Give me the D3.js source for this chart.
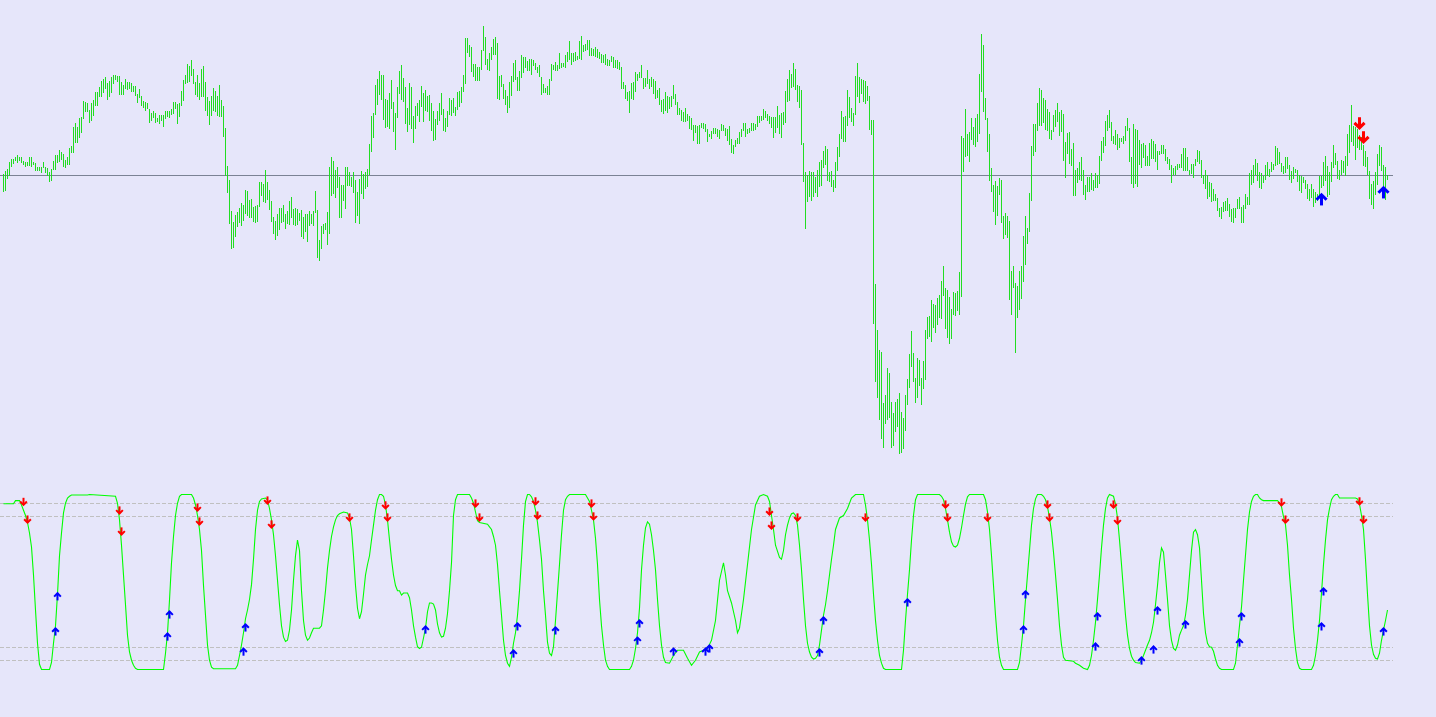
<!DOCTYPE html>
<html><head><meta charset="utf-8">
<script src="https://cdn.jsdelivr.net/npm/d3@7"></script>
<style>html,body{margin:0;padding:0;background:#e6e6fa;overflow:hidden}svg{display:block}</style>
</head><body>
<svg id="chart" width="1436" height="717"></svg>
<script>
// ---- price bars (high / low, in points relative to the horizontal level) ----
const barHigh = [
5,15,20,42,50,50,57,62,57,57, 45,42,40,57,57,42,39,27,27,27, 42,25,24,12,20,45,63,63,78,72, 65,48,57,82,90,145,157,145,172,177,
225,222,217,198,219,228,252,250,267,283, 289,297,277,283,295,303,303,300,300,280, 273,291,282,282,279,270,270,245,261,240,
225,222,217,201,187,195,188,174,183,183, 183,195,195,195,201,222,222,215,219,255, 288,303,336,330,348,321,282,303,279,321,
330,282,237,225,240,264,255,240,273,228, 210,142,30,-12,-105,-138,-117,-108,-98,
-81,-87,-42,-45,-72,-69,-95,-90,-87,-18, -18,-24,18,-18,-42,-75,-123,-135,-114,-96, -96,-87,-114,-105,-75,-63,-99,-96,-99,-111,
-102,-123,-114,-114,-105,-114,-105,-45,-102,-192, -150,-144,-141,-108,27,57,45,18,27,-3, -27,-27,27,27,12,-3,12,-12,-48,-9,
15,6,12,21,96,180,189,273,291,315, 303,303,231,228,249,288,222,189,267,315, 333,294,267,204,279,267,180,210,219,228,
270,249,258,240,243,219,195,171,195,219, 249,201,174,195,234,228,234,207,252,255, 267,303,414,414,393,387,336,336,327,327,
378,450,417,351,369,387,411,417,399,300, 303,276,258,240,282,300,339,348,297,315, 363,357,357,345,351,351,348,339,327,333,
297,276,264,270,291,336,333,342,333,369, 339,339,363,372,405,369,369,372,360,405, 420,393,396,408,408,384,381,387,381,372,
366,363,366,351,348,360,357,348,348,342, 327,282,273,252,255,279,282,312,306,312, 333,294,294,318,291,297,291,285,258,264,
228,231,252,240,237,240,273,246,222,204, 198,192,204,186,180,174,153,153,150,153, 159,159,156,141,126,135,144,144,141,138,
156,153,144,141,150,111,93,108,114,132, 141,159,159,141,144,159,159,156,180,180, 180,201,195,186,180,177,177,177,210,183,
189,192,255,291,318,306,339,321,273,270, 258,99,12,3,15,12,12,-3,18,42, 48,75,90,81,12,15,-12,42,87,126,
195,177,180,258,237,204,189,300,339,297, 291,288,285,270,240,168,168,-324,-462,-522, -528,-681,-657,-576,-591,-678,-711,-678,-669,-651,
-708,-726,-657,-609,-534,-465,-531,-606,-546,-552, -606,-555,-462,-423,-420,-372,-384,-387,-366,-357, -315,-270,-336,-342,-363,-399,-348,-351,-345,-288,
120,114,201,126,132,174,147,174,186,306, 426,393,234,174,126,24,-27,-15,-30,-6, -12,-120,-111,-120,-135,-285,-270,-321,-330,-285,
-270,-180,-120,-156,-51,90,156,156,219,264, 258,234,228,201,192,138,183,198,219,192, 198,186,102,129,132,81,99,18,24,42,
57,18,-27,-3,-3,9,-12,9,3,60, 105,117,165,183,198,162,120,138,126,114, 114,120,150,174,144,57,156,141,138,108,
96,99,93,60,99,111,105,96,75,75, 93,93,81,57,51,33,24,30,36,36, 66,84,84,57,18,36,36,51,78,75,
48,3,18,3,-18,-21,-39,-54,-66,-96, -93,-78,-75,-66,-84,-99,-96,-96,-69,-63, -93,-87,-54,-63,9,18,33,51,39,12,
9,0,33,42,21,42,36,90,84,72, 39,30,57,57,33,15,27,21,18,3, 0,-3,-12,-24,-39,-24,-39,-48,-54,0,
0,42,60,30,12,42,93,69,45,18, 48,45,60,126,153,213,150,147,141,123, 117,93,75,57,15,-24,-15,12,66,93, 87,33,27,3
];
const barLow = [
-50,-45,-11,-1,25,35,43,37,43,37, 31,27,30,29,27,31,15,15,15,9, 22,7,-1,-18,-15,18,18,37,40,48, 27,22,33,33,67,69,97,97,112,127,
169,190,190,157,163,178,208,210,235,235, 247,261,228,235,249,274,288,280,243,243, 241,260,258,259,252,250,238,219,233,210,
202,195,201,157,165,173,157,162,154,163, 147,169,175,174,183,186,200,154,175,210, 225,275,277,282,300,276,243,235,228,237,
237,195,180,153,180,195,190,180,177,175, 115,0,-53,-146,-221,-218,-183,-153,-143,
-150,-135,-115,-120,-128,-128,-138,-141,-138,-95, -60,-78,-81,-72,-102,-138,-174,-192,-180,-162, -141,-138,-159,-144,-147,-126,-147,-150,-147,-135,
-183,-189,-168,-198,-150,-144,-150,-111,-246,-255, -219,-174,-162,-207,-174,-60,-54,-66,-36,-126, -126,-75,-99,-30,-30,-33,-51,-141,-120,-144,
-54,-69,-39,-33,3,72,114,183,213,243, 228,168,144,147,141,201,132,78,174,246, 228,222,156,132,153,141,99,141,180,162,
207,162,195,192,165,135,105,108,153,165, 183,135,132,147,183,180,189,180,198,207, 219,252,276,369,357,312,297,285,285,285,
318,375,333,318,315,348,363,363,231,228, 267,231,213,189,204,240,282,288,255,255, 294,309,324,315,315,303,330,318,309,297,
243,249,249,243,243,285,318,315,315,321, 324,327,324,342,348,333,342,345,348,351, 348,372,375,378,360,360,360,357,354,351,
339,339,333,330,330,342,324,324,321,318, 261,261,231,225,189,231,228,252,285,294, 294,261,267,276,261,267,246,231,234,213,
192,186,195,189,201,207,231,213,183,183, 165,162,162,165,141,138,105,129,96,96, 144,141,132,102,117,111,126,126,117,111,
135,135,120,105,93,69,66,87,96,96, 117,135,117,126,129,135,135,138,147,159, 165,168,174,165,156,144,114,129,144,126,
114,153,159,222,225,264,267,258,222,204, 93,-18,-159,-78,-63,-75,-63,-51,-63,-33, -30,24,33,-15,-18,-33,-48,-36,15,57,
111,102,102,150,174,162,150,183,237,219, 246,222,216,225,138,123,-444,-618,-666,-732, -789,-816,-744,-732,-726,-816,-810,-768,-753,-834,
-831,-819,-765,-687,-636,-573,-618,-681,-666,-630, -687,-639,-612,-489,-483,-498,-456,-471,-447,-426, -429,-360,-459,-486,-504,-489,-417,-420,-405,-417,
-363,12,57,60,42,108,93,87,102,126, 252,192,168,72,-15,-48,-108,-147,-120,-57, -141,-189,-177,-186,-372,-417,-336,-531,-426,-402,
-369,-318,-267,-204,-168,-75,60,72,135,150, 150,159,138,135,111,108,132,147,162,120, 132,45,-6,66,36,30,-60,-60,-21,-12,
-15,-57,-72,-48,-48,-42,-45,-36,-36,-24, 45,69,90,135,144,105,96,93,78,84, 102,96,105,135,42,-24,-36,-24,-33,33,
24,54,30,30,30,51,51,42,18,63, 66,66,45,36,18,-21,3,3,18,24, 24,15,15,15,3,6,-6,30,42,36,
-6,-24,-39,-69,-63,-78,-75,-75,-105,-123, -129,-108,-105,-105,-123,-138,-141,-126,-99,-99, -141,-141,-99,-87,-87,-27,-21,3,-15,-36,
-39,-21,-12,0,-3,12,18,30,33,36, 12,6,9,21,-12,-21,-9,9,-18,-45, -51,-21,-39,-69,-75,-66,-93,-81,-75,-60,
-36,-30,-15,-63,-57,-18,24,33,-9,-12, 3,9,0,30,69,102,90,48,84,78, 78,30,27,3,-69,-87,-99,-57,-27,30, 15,-30,-72,-12
];
const priceLevel = 0;
// arrows on the price chart: [bar, price]
const priceSell = [[678,155],[680,113]];
const priceBuy  = [[659,-70],[690,-49]];

// ---- oscillator (0..100): [bar, value] ----
const oscillator = [
[0,94.7],[5,94.7],[6,96.5],[8,96.5],[9,94],[10,91],[11,88],[12,84],[13,78],[14,70],[15,54],[16,34],[17,15],[18,3],[19,0],[23,0],
[24,4],[25,15],[26,25],[27,43],[28,65],[29,78],[30,89.5],[31,95],[32,98],[33,99],[34,99.7],[42,99.7],[43,100],[56,99],[57,95],
[58,85.5],[59,71],[60,54],[61,37],[62,19.6],[63,10],[64,5.3],[65,2.4],[66,0.7],[67,0],[80,0],[81,9.3],[82,20.8],[83,39.7],[84,61],
[85,76],[86,88],[87,95],[88,99],[89,100],[94,100],[95,98],[96,94],[97,88],[98,80],[99,68],[100,48],[101,31],[102,14],[103,5.3],
[104,1.3],[105,0.4],[116,0.4],[117,2.4],[118,8],[119,14],[120,21],[121,29],[122,34],[123,40],[124,48.5],[125,63],[126,80],[127,91],
[128,96],[129,97.5],[131,98],[132,97],[133,92],[134,85.5],[135,77],[136,65],[137,51],[138,37],[139,25],[140,18.5],[141,16],[142,16.7],
[143,22.5],[144,34],[145,51],[146,65],[147,74],[148,68],[149,45],[150,28],[151,19.6],[152,16.7],[153,18],[154,21],[155,23.6],[158,23.6],
[159,25],[160,34],[161,45],[162,58],[163,68],[164,76],[165,81.5],[166,85.5],[167,88],[168,89],[170,90],[172,89.5],[173,86.6],[174,80],
[175,65],[176,48],[177,35],[178,29],[179,33],[180,43],[181,54],[182,60],[183,65],[184,74],[185,82.5],[186,91],[187,97],[188,100],
[189,100],[190,99],[191,94],[192,85.5],[193,74],[194,63],[195,54],[196,48],[197,45],[198,45],[199,42.5],[200,43.7],[202,43.7],[203,41],
[204,34],[205,25],[206,18.5],[207,13],[208,12],[209,12.7],[210,18],[211,23.6],[212,33],[213,38],[214,38],[215,37.4],[216,34],[217,26],
[218,21],[219,18.5],[220,19],[221,23.6],[222,32],[223,45],[224,61],[225,88],[226,97],[227,100],[233,100],[234,98],[235,95],[236,90],
[237,85],[238,84],[242,83],[243,81.5],[244,80],[245,76],[246,71],[247,60],[248,45],[249,31],[250,16.7],[251,8],[252,3.6],[253,1.8],
[254,7],[255,15],[256,21],[257,31],[258,45],[259,63],[260,82.5],[261,96],[262,100],[263,100],[264,98.7],[265,96],[266,91],[267,84],
[268,74],[269,63],[270,45],[271,31],[272,15.6],[273,9.3],[274,8],[275,13],[276,28],[277,44],[278,60],[279,77],[280,91],[281,97],
[282,99],[283,100],[291,100],[292,98],[293,96],[294,91],[295,85.5],[296,75],[297,60],[298,40],[299,25],[300,14],[301,5.3],[302,1.8],
[303,0],[313,0],[314,1.8],[315,5.3],[316,12],[317,21],[318,35],[319,57],[320,71],[321,81],[322,84.4],[323,83],[324,77],[325,68],
[326,57],[327,40],[328,25],[329,14],[330,7],[331,4],[333,3.6],[335,8],[337,11],[340,11],[342,6.4],[344,2.4],[346,5.3],[348,10],
[350,11],[352,12],[354,16.7],[356,28],[358,51],[360,61],[361,54],[362,45],[364,38],[366,28],[367,21],[368,23.6],[370,40],[372,60],
[374,80],[376,94],[378,99],[380,100],[382,99],[383,96],[384,88],[385,80],[386,71],[388,64],[389,63],[390,68],[391,77],[392,82.5],
[393,86.6],[394,89],[395,89.5],[396,88],[397,82.5],[398,71],[399,57],[400,40],[401,25],[402,15],[403,10],[404,7],[405,6],[406,6.4],
[407,8],[408,14],[409,22.5],[410,31],[411,37],[412,45],[413,54],[414,63],[415,71],[416,80],[418,86.6],[420,88],[422,92],[424,98],
[426,100],[430,100],[431,94],[432,85.5],[433,74],[434,60],[435,43],[436,28],[437,16.7],[438,8],[439,3.6],[440,0.7],[441,0],[449,0],
[450,11],[451,28],[452,43],[453,57],[454,74],[455,88],[456,97],[457,100],[468,100],[469,99],[470,97],[471,92],[472,85.5],[473,78.5],
[474,73],[475,70.5],[476,70],[477,71],[478,75],[479,81],[480,88],[481,94.5],[482,98.7],[483,100],[490,100],[491,97],[492,90],[493,80],
[494,65],[495,48],[496,31],[497,16.7],[498,7],[499,2.4],[500,0],[507,0],[508,4],[509,14],[510,25],[511,40],[512,54],[513,68],
[514,82.5],[515,92],[516,97.5],[517,100],[519,100],[520,99],[521,97],[522,93],[523,86.6],[524,78.5],[525,67],[526,54],[527,40],[528,25],
[529,14],[530,7],[531,5.3],[535,4.7],[536,3.6],[538,2.4],[540,0.7],[542,0],[543,2.4],[544,8],[545,16.7],[546,27],[547,40],[548,54],
[549,69.5],[550,82.5],[551,92],[552,98],[553,100],[555,99],[556,94.5],[557,86.6],[558,74],[559,60],[560,45],[561,31],[562,19.6],[563,12],
[564,7.6],[565,5.3],[566,4],[568,3.6],[569,5.3],[570,8],[571,11],[572,14],[573,16.7],[574,21],[575,27],[576,37],[577,48],[578,61],
[579,69.5],[580,67],[581,54],[582,40],[583,25],[584,16.7],[585,12],[586,11],[587,14],[588,19.6],[589,22.5],[590,25],[591,31],[592,40],
[593,54],[594,68],[595,78.5],[596,80],[597,77],[598,69.5],[599,51],[600,32],[601,21],[602,15],[603,13],[604,12.7],[605,10.4],[606,6],
[607,2.4],[608,0.7],[609,0],[615,0],[616,3.6],[617,14],[618,25],[619,35.7],[620,51],[621,65.4],[622,80],[623,90],[624,96],[625,99],
[626,100],[627,100],[628,98],[629,97],[630,96.5],[637,96.5],[638,95.3],[639,93],[640,87.3],[641,82.7],[642,71],[643,54],[644,40],
[645,23.6],[646,12],[647,4],[648,0.7],[649,0],[654,0],[655,2.4],[656,8],[657,16.7],[658,28],[659,43.7],[660,60],[661,74],[662,85.5],
[663,92],[664,97],[665,99],[666,100],[667,100],[668,98],[676,98],[677,97.5],[678,94.5],[679,88],[680,80],[681,63],[682,43],[683,25],
[684,14],[685,8.7],[686,6.4],[687,6],[688,9.3],[689,16.7],[690,22.5],[691,28],[692,34]
];
const oscLevels = [95, 87.5, 12.5, 5];
// arrows on the oscillator: [bar, value]
const oscSell = [[10,95.6],[12,85.5],[58,90.7],[59,78.7],[97,92.4],[98,84.4],[132,96.4],[134,82.7],[173,86.7],[191,93.6],[192,86.7],
[236,94.7],[238,86.7],[266,95.9],[267,87.8],[294,94.7],[295,87.3],[383,90.1],[384,82.1],[397,86.7],[431,86.7],[471,94.1],[472,86.7],
[492,86.7],[522,94.1],[523,86.7],[555,94.1],[557,85],[639,95.3],[641,85.5],[678,95.9],[680,85.5]];
const oscBuy = [[27,42],[26,21.9],[83,31.6],[82,19],[121,24.2],[120,10.4],[211,23],[255,9.3],[257,24.8],[276,22.5],[317,16.7],[318,26.5],
[335,10.4],[351,10.4],[353,12.2],[408,9.9],[410,28.2],[452,38.5],[510,23],[511,43.1],[546,13.3],[547,30.5],[569,5.3],[575,11.6],
[577,33.9],[591,25.9],[618,15.6],[619,30.5],[659,24.8],[660,44.8],[690,21.9]];

// ---- drawing ----
const svg = d3.select("#chart");
const nBars = barHigh.length;
const x = d3.scaleLinear().domain([0, nBars - 1]).range([3.5, 1387.5]);
const yP = d3.scaleLinear().domain([465, -855]).range([20.5, 460.5]);
const yO = d3.scaleLinear().domain([0, 100]).range([669.5, 494.5]);
const plotRight = 1393;

svg.append("rect").attr("width", 1436).attr("height", 717).attr("fill", "#e6e6fa");

// horizontal price level
svg.append("line")
  .attr("x1", 0).attr("x2", plotRight)
  .attr("y1", yP(priceLevel)).attr("y2", yP(priceLevel))
  .attr("stroke", "#7b8294").attr("stroke-width", 1).attr("shape-rendering", "crispEdges");

// bars
svg.append("g").selectAll("line").data(d3.range(nBars)).join("line")
  .attr("x1", i => x(i)).attr("x2", i => x(i))
  .attr("y1", i => yP(barHigh[i])).attr("y2", i => yP(barLow[i]) )
  .attr("stroke", "#22dd22").attr("stroke-width", 1).attr("shape-rendering", "crispEdges");

// oscillator levels
svg.append("g").selectAll("line").data(oscLevels).join("line")
  .attr("x1", 0).attr("x2", plotRight)
  .attr("y1", d => Math.floor(yO(d)) + 0.5).attr("y2", d => Math.floor(yO(d)) + 0.5)
  .attr("stroke", "#c0c0c0").attr("stroke-width", 1).attr("stroke-dasharray", "4,2")
  .attr("shape-rendering", "crispEdges");

// oscillator line
svg.append("path").datum(oscillator)
  .attr("d", d3.line().x(d => x(d[0])).y(d => yO(d[1])))
  .attr("fill", "none").attr("stroke", "#00ff00").attr("stroke-width", 1.1);

function arrow(g, s, dir, color) {
  const k = dir === "up" ? 1 : -1;
  const chev = `M${-0.42*s},${k*0.08*s} L0,${-k*0.34*s} L${0.42*s},${k*0.08*s}`;
  const shaft = `M0,${-k*0.3*s} L0,${k*0.55*s}`;
  g.append("path").attr("d", chev).attr("fill", "none").attr("stroke", color)
    .attr("stroke-width", 0.25*s).attr("stroke-linejoin", "miter");
  g.append("path").attr("d", shaft).attr("fill", "none").attr("stroke", color)
    .attr("stroke-width", 0.25*s);
}
function drawArrows(data, yScale, size, dir, color) {
  const g = svg.append("g");
  data.forEach(d => {
    const a = g.append("g").attr("transform", `translate(${x(d[0])},${yScale(d[1])})`);
    arrow(a, size, dir, color);
  });
}
drawArrows(priceSell, yP, 12, "down", "#ff0000");
drawArrows(priceBuy, yP, 12, "up", "#0000ff");
drawArrows(oscSell, yO, 8, "down", "#ff0000");
drawArrows(oscBuy, yO, 8, "up", "#0000ff");
</script>
</body></html>
